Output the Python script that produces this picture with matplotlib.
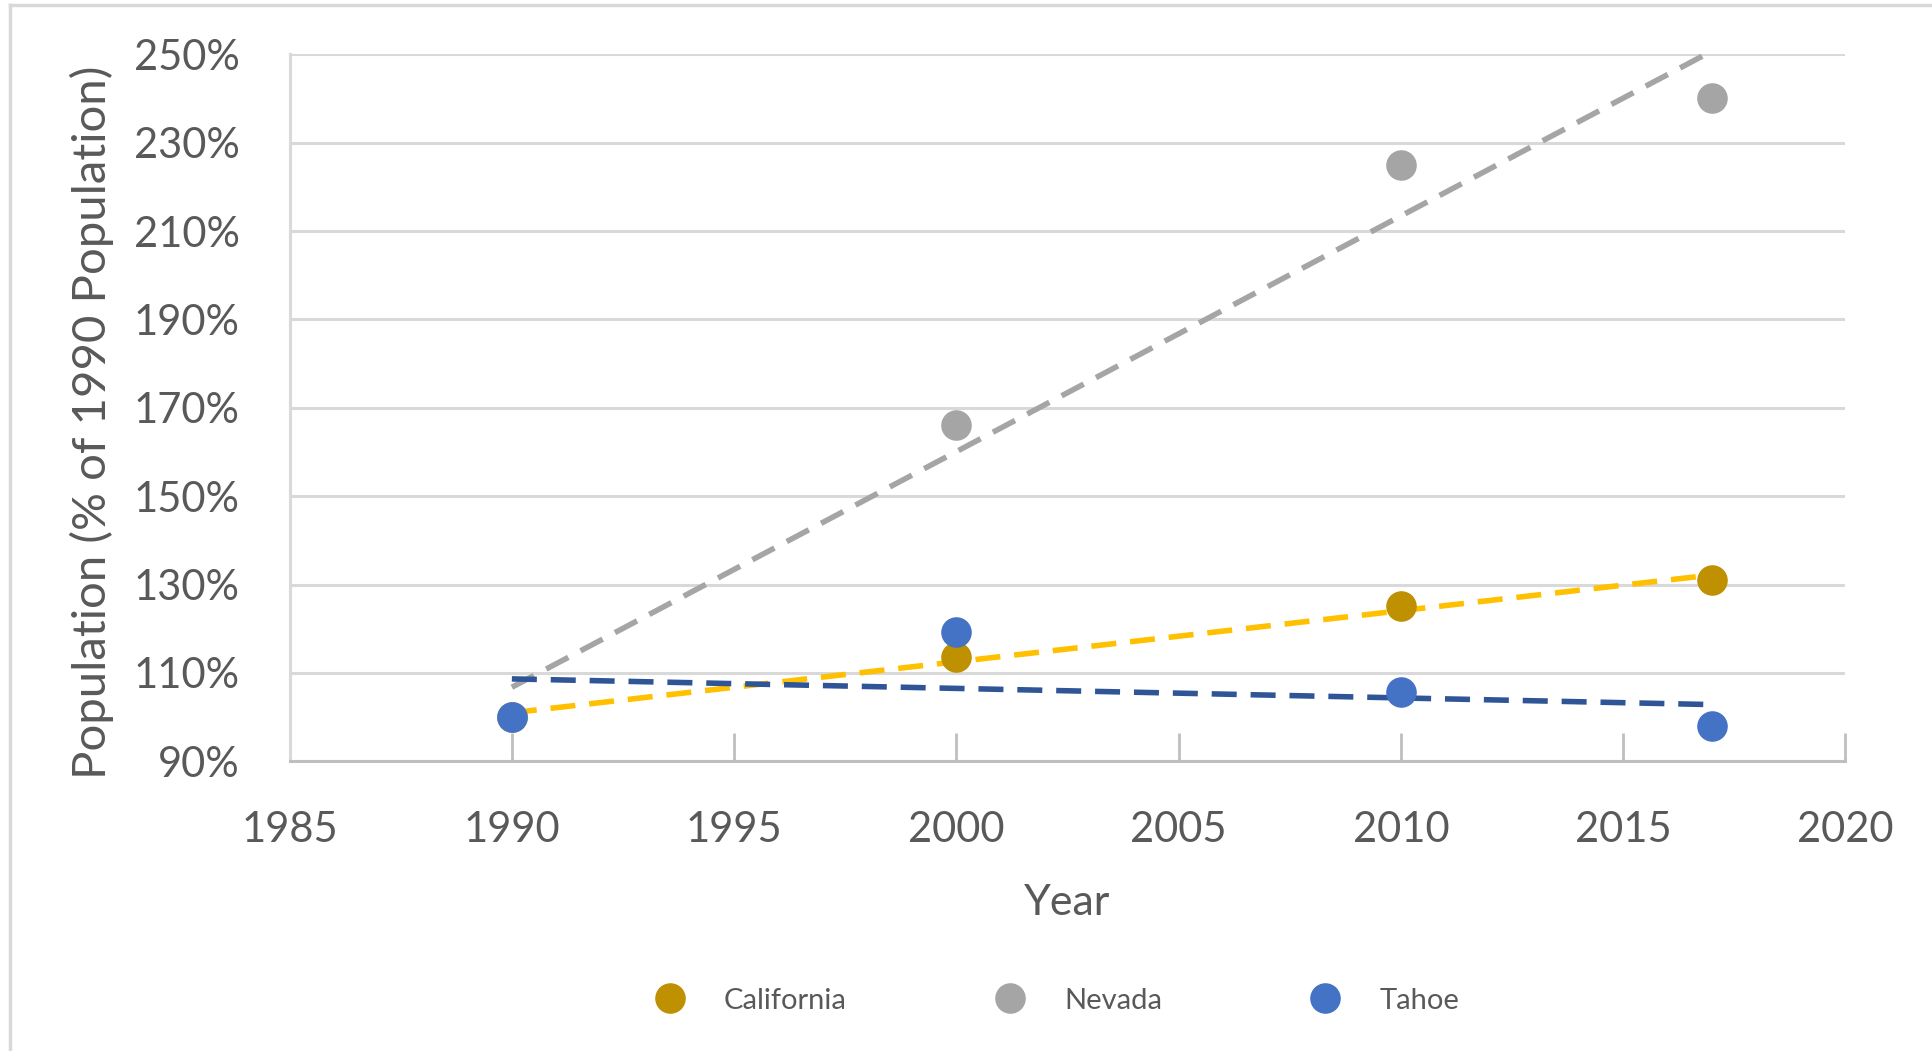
import numpy as np
import matplotlib.pyplot as plt
from matplotlib.lines import Line2D

plt.rcParams['font.family'] = ['Lato', 'DejaVu Sans']

years = [1990, 2000, 2010, 2017]
california = [100.0, 113.7, 125.1, 131.0]
nevada = [100.0, 166.1, 224.9, 240.0]
tahoe = [100.0, 119.3, 105.6, 98.1]
names = ['California', 'Nevada', 'Tahoe']

dot_cols = ['#BF9000', '#A5A5A5', '#4472C4']
trend_cols = ['#FFC000', '#A5A5A5', '#2F5597']
txt = '#595959'

fig = plt.figure(figsize=(19.32, 10.51), dpi=100)
ax = fig.add_axes([0.1499, 0.2756, 0.9552 - 0.1499, 0.9484 - 0.2756])

x = np.array(years, dtype=float)
xs = np.linspace(x[0], x[-1], 50)

# trendlines (linear). Tahoe's one behaves like an excel fit against point index
for i, ys in enumerate([california, nevada, tahoe]):
    ys = np.array(ys)
    if names[i] == 'Tahoe':
        idx = np.arange(len(ys))
        p = np.polyfit(idx, ys, 1)
        ti = (xs - x[0]) / (x[-1] - x[0]) * (len(ys) - 1)
        ty = np.polyval(p, ti)
    else:
        p = np.polyfit(x, ys, 1)
        ty = np.polyval(p, xs)
    ax.plot(xs, ty, color=trend_cols[i], lw=4, ls=(0, (4.5, 2.5)), zorder=3, clip_on=True)

for i, ys in enumerate([california, nevada, tahoe]):
    ax.plot(x, ys, 'o', color=dot_cols[i], markersize=21, label=names[i], zorder=4,
            clip_on=False)

ax.set_xlim(1985, 2020)
ax.set_ylim(90, 250)
ax.set_xticks(np.arange(1985, 2021, 5))
ax.set_yticks(np.arange(90, 251, 20))
ax.set_yticklabels([f'{v}%' for v in range(90, 251, 20)])

ax.grid(axis='y', color='#D9D9D9', lw=2.2)
ax.set_axisbelow(True)
for s in ['top', 'right']:
    ax.spines[s].set_visible(False)
ax.spines['bottom'].set_color('#BFBFBF')
ax.spines['bottom'].set_linewidth(2.2)
ax.spines['left'].set_color('#D9D9D9')
ax.spines['left'].set_linewidth(2.2)

ax.tick_params(axis='x', direction='in', length=20, width=2, color='#BFBFBF',
               labelsize=30, labelcolor=txt, pad=36)
ax.tick_params(axis='y', length=0, labelsize=30, labelcolor=txt, pad=36)

ax.set_xlabel('Year', fontsize=31, color=txt, labelpad=25)
ax.set_ylabel('Population (% of 1990 Population)', fontsize=34, color=txt)
ax.yaxis.set_label_coords(-0.113, 0.48)

leg = fig.legend(loc='center', bbox_to_anchor=(0.5435, 0.048), ncol=3, frameon=False,
                 fontsize=21, columnspacing=4.6, handletextpad=0.85, markerscale=1.0)
for t in leg.get_texts():
    t.set_color(txt)

# light outer frame (top and left visible in the reference)
fig.add_artist(Line2D([0.005, 1.0], [0.995, 0.995], color='#D9D9D9', lw=2.5))
fig.add_artist(Line2D([0.005, 0.005], [0.0, 0.995], color='#D9D9D9', lw=2.5))

fig.savefig('out.png', dpi=100)
